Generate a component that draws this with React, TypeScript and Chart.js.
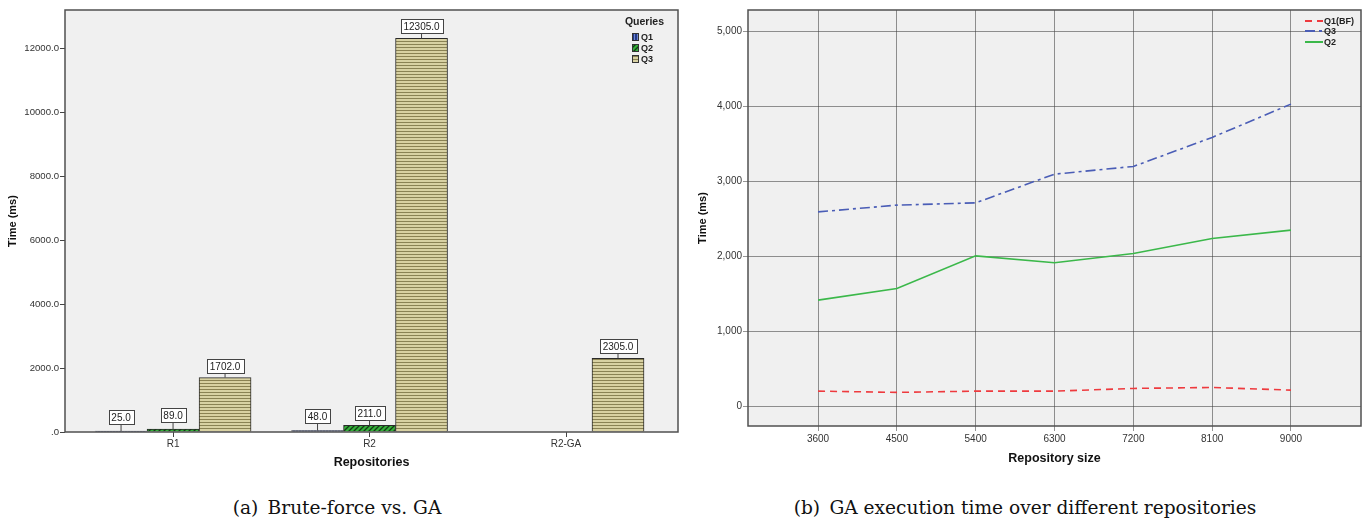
import React, { useEffect, useRef } from 'react';
import { Chart, registerables } from 'chart.js';

Chart.register(...registerables);

// ---- Brute-force vs. GA (bar chart) ----
const repoLabels = ['R1', 'R2', 'R2-GA'];
const q1Times: (number | null)[] = [25.0, 48.0, null];
const q2Times: (number | null)[] = [89.0, 211.0, null];
const q3Times: (number | null)[] = [1702.0, 12305.0, 2305.0];
const barYTicks = [0, 2000, 4000, 6000, 8000, 10000, 12000];

// ---- GA execution time over repository size (line chart) ----
const repoSizes = [3600, 4500, 5400, 6300, 7200, 8100, 9000];
const q1bfTimes = [200, 183, 200, 200, 236, 249, 213];
const q3GaTimes = [2590, 2680, 2711, 3093, 3196, 3583, 4027];
const q2GaTimes = [1413, 1569, 2004, 1911, 2036, 2236, 2347];
const lineYTicks = [0, 1000, 2000, 3000, 4000, 5000];

const SANS = '"Liberation Sans", Arial, sans-serif';
const TEXT = '#333333';
const PLOT_BG = '#f0f0f0';
const FRAME = '#505050';

function makePattern(kind: 'vertical' | 'diagonal' | 'horizontal'): CanvasPattern | string {
  const c = document.createElement('canvas');
  const g = c.getContext('2d');
  if (!g) return '#888';
  if (kind === 'vertical') {
    c.width = 3; c.height = 3;
    g.fillStyle = '#233a8c';
    g.fillRect(0, 0, 3, 3);
    g.fillStyle = '#6f86cc';
    g.fillRect(1, 0, 1, 3);
  } else if (kind === 'diagonal') {
    c.width = 5; c.height = 5;
    g.fillStyle = '#34b039';
    g.fillRect(0, 0, 5, 5);
    g.strokeStyle = '#123a14';
    g.lineWidth = 1.3;
    g.beginPath();
    g.moveTo(-1, 6); g.lineTo(6, -1);
    g.moveTo(-1, 1); g.lineTo(1, -1);
    g.moveTo(4, 6); g.lineTo(6, 4);
    g.stroke();
  } else {
    c.width = 3; c.height = 3;
    g.fillStyle = '#d8d1a2';
    g.fillRect(0, 0, 3, 3);
    g.fillStyle = '#8a8253';
    g.fillRect(0, 2, 3, 1);
  }
  const p = g.createPattern(c, 'repeat');
  return p || '#888';
}

// plot background and frame
const plotFrame = {
  id: 'plotFrame',
  beforeDraw(chart: any) {
    const { ctx, chartArea: a } = chart;
    ctx.save();
    ctx.fillStyle = '#ffffff';
    ctx.fillRect(0, 0, chart.width, chart.height);
    ctx.fillStyle = PLOT_BG;
    ctx.fillRect(a.left, a.top, a.right - a.left, a.bottom - a.top);
    ctx.restore();
  },
  afterDraw(chart: any) {
    const { ctx, chartArea: a } = chart;
    ctx.save();
    ctx.strokeStyle = FRAME;
    ctx.lineWidth = 1.5;
    ctx.strokeRect(a.left, a.top, a.right - a.left, a.bottom - a.top);
    ctx.restore();
  },
};

// boxed value labels above each bar
const valueBoxes = {
  id: 'valueBoxes',
  afterDatasetsDraw(chart: any) {
    const ctx = chart.ctx;
    ctx.save();
    ctx.font = `10px ${SANS}`;
    ctx.textAlign = 'center';
    ctx.textBaseline = 'middle';
    chart.data.datasets.forEach((ds: any, di: number) => {
      const meta = chart.getDatasetMeta(di);
      meta.data.forEach((bar: any, i: number) => {
        const v = ds.data[i].y;
        if (v == null) return;
        const text = v.toFixed(1);
        const w = Math.round(ctx.measureText(text).width + 6);
        const h = 14;
        const gap = v < 100 ? 7 : 5;
        const bx = Math.round(bar.x - w / 2) + 0.5;
        const by = Math.round(bar.y - gap - h) + 0.5;
        ctx.strokeStyle = '#444';
        ctx.lineWidth = 1;
        ctx.beginPath();
        ctx.moveTo(bar.x, by + h);
        ctx.lineTo(bar.x, bar.y);
        ctx.stroke();
        ctx.fillStyle = '#ffffff';
        ctx.fillRect(bx, by, w, h);
        ctx.strokeRect(bx, by, w, h);
        ctx.fillStyle = '#222';
        ctx.fillText(text, bar.x, by + h / 2 + 0.5);
      });
    });
    ctx.restore();
  },
};

function barLegend(fills: (CanvasPattern | string)[]) {
  return {
    id: 'barLegend',
    afterDraw(chart: any) {
      const ctx = chart.ctx;
      const a = chart.chartArea;
      ctx.save();
      ctx.fillStyle = '#222';
      ctx.textBaseline = 'middle';
      ctx.textAlign = 'right';
      ctx.font = `bold 10.5px ${SANS}`;
      ctx.fillText('Queries', a.right - 14, a.top + 12);
      ctx.textAlign = 'left';
      ctx.font = `bold 9px ${SANS}`;
      const names = ['Q1', 'Q2', 'Q3'];
      names.forEach((n, i) => {
        const cy = a.top + 27 + i * 11;
        const sx = a.left + 567;
        ctx.fillStyle = fills[i];
        ctx.fillRect(sx, cy - 4, 7, 8);
        ctx.strokeStyle = '#333';
        ctx.lineWidth = 1;
        ctx.strokeRect(sx + 0.5, cy - 4 + 0.5, 6, 7);
        ctx.fillStyle = '#222';
        ctx.fillText(n, sx + 9, cy + 0.5);
      });
      ctx.restore();
    },
  };
}

const lineLegend = {
  id: 'lineLegend',
  afterDraw(chart: any) {
    const ctx = chart.ctx;
    const a = chart.chartArea;
    ctx.save();
    ctx.font = `bold 9px ${SANS}`;
    ctx.textBaseline = 'middle';
    ctx.textAlign = 'left';
    const x0 = a.right - 56;
    const x1 = x0 + 18;
    chart.data.datasets.forEach((ds: any, i: number) => {
      const cy = a.top + [11, 21, 32][i];
      ctx.strokeStyle = ds.borderColor;
      ctx.lineWidth = 2;
      ctx.setLineDash(ds.borderDash || []);
      ctx.beginPath();
      ctx.moveTo(x0, cy);
      ctx.lineTo(x1, cy);
      ctx.stroke();
      ctx.setLineDash([]);
      ctx.fillStyle = '#222';
      ctx.fillText(ds.label, x1 + 1, cy + 0.5);
    });
    ctx.restore();
  },
};

function BarPanel() {
  const ref = useRef<HTMLCanvasElement | null>(null);
  useEffect(() => {
    if (!ref.current) return;
    const fills = [makePattern('vertical'), makePattern('diagonal'), makePattern('horizontal')];
    const series = [q1Times, q2Times, q3Times];
    const chart = new Chart(ref.current, {
      type: 'bar',
      data: {
        datasets: ['Q1', 'Q2', 'Q3'].map((label, k) => ({
          label,
          data: series[k].map((y, i) => ({ x: i, y })),
          backgroundColor: fills[k],
          borderColor: '#2a2a2a',
          borderWidth: 1,
          barThickness: 52,
        })),
      } as any,
      options: {
        animation: false,
        responsive: false,
        maintainAspectRatio: false,
        layout: { padding: { left: 0, right: 12, top: 10, bottom: 0 } },
        plugins: { legend: { display: false }, tooltip: { enabled: false } },
        scales: {
          x: {
            type: 'linear',
            min: -0.55,
            max: 2.57,
            offset: false,
            afterBuildTicks: (s: any) => {
              s.ticks = repoLabels.map((_, i) => ({ value: i }));
            },
            afterFit: (s: any) => {
              s.height = 43;
            },
            ticks: {
              autoSkip: false,
              maxRotation: 0,
              padding: 1,
              color: TEXT,
              font: { family: SANS, size: 10 },
              callback: (v: any) => repoLabels[Math.round(v)] ?? '',
            },
            grid: { offset: false, drawOnChartArea: false, drawTicks: true, tickLength: 5, color: '#444' },
            border: { display: false },
            title: {
              display: true,
              text: 'Repositories',
              color: '#111',
              font: { family: SANS, size: 12.5, weight: 'bold' },
              padding: { top: 0, bottom: 5 },
            },
          },
          y: {
            type: 'linear',
            min: 0,
            max: 13190,
            afterBuildTicks: (s: any) => {
              s.ticks = barYTicks.map((v) => ({ value: v }));
            },
            afterFit: (s: any) => {
              s.width = 65;
            },
            ticks: {
              padding: 1,
              color: TEXT,
              font: { family: SANS, size: 9.6 },
              callback: (v: any) => (v === 0 ? '.0' : Number(v).toFixed(1)),
            },
            grid: { drawOnChartArea: false, drawTicks: true, tickLength: 5, color: '#444' },
            border: { display: false },
            title: {
              display: true,
              text: 'Time (ms)',
              color: '#111',
              font: { family: SANS, size: 11, weight: 'bold' },
              padding: { top: 6, bottom: 0 },
            },
          },
        },
      } as any,
      plugins: [plotFrame, valueBoxes, barLegend(fills)],
    });
    return () => chart.destroy();
  }, []);
  return <canvas ref={ref} width={690} height={475} style={{ position: 'absolute', left: 0, top: 0, width: 690, height: 475 }} />;
}

function LinePanel() {
  const ref = useRef<HTMLCanvasElement | null>(null);
  useEffect(() => {
    if (!ref.current) return;
    const toPoints = (ys: number[]) => ys.map((y, i) => ({ x: repoSizes[i], y }));
    const chart = new Chart(ref.current, {
      type: 'line',
      data: {
        datasets: [
          { label: 'Q1(BF)', data: toPoints(q1bfTimes), borderColor: '#ee3a3e', borderDash: [7, 5], borderWidth: 1.6, pointRadius: 0, tension: 0 },
          { label: 'Q3', data: toPoints(q3GaTimes), borderColor: '#4a5db6', borderDash: [10, 4, 3, 4], borderWidth: 1.6, pointRadius: 0, tension: 0 },
          { label: 'Q2', data: toPoints(q2GaTimes), borderColor: '#3bb84a', borderWidth: 1.6, pointRadius: 0, tension: 0 },
        ],
      } as any,
      options: {
        animation: false,
        responsive: false,
        maintainAspectRatio: false,
        layout: { padding: { left: 0, right: 8, top: 10, bottom: 0 } },
        plugins: { legend: { display: false }, tooltip: { enabled: false } },
        scales: {
          x: {
            type: 'linear',
            min: 2800,
            max: 9800,
            afterBuildTicks: (s: any) => {
              s.ticks = repoSizes.map((v) => ({ value: v }));
            },
            afterFit: (s: any) => {
              s.height = 49;
            },
            ticks: {
              autoSkip: false,
              maxRotation: 0,
              padding: 2,
              color: TEXT,
              font: { family: SANS, size: 10 },
              callback: (v: any) => String(v),
            },
            grid: { drawOnChartArea: true, drawTicks: true, tickLength: 5, color: 'rgba(60,60,60,0.55)', lineWidth: 1 },
            border: { display: false },
            title: {
              display: true,
              text: 'Repository size',
              color: '#111',
              font: { family: SANS, size: 12.5, weight: 'bold' },
              padding: { top: 0, bottom: 9 },
            },
          },
          y: {
            type: 'linear',
            min: -265,
            max: 5282,
            afterBuildTicks: (s: any) => {
              s.ticks = lineYTicks.map((v) => ({ value: v }));
            },
            afterFit: (s: any) => {
              s.width = 58;
            },
            ticks: {
              padding: 1,
              color: TEXT,
              font: { family: SANS, size: 10 },
              callback: (v: any) => Number(v).toLocaleString('en-US'),
            },
            grid: { drawOnChartArea: true, drawTicks: true, tickLength: 5, color: 'rgba(60,60,60,0.55)', lineWidth: 1 },
            border: { display: false },
            title: {
              display: true,
              text: 'Time (ms)',
              color: '#111',
              font: { family: SANS, size: 11, weight: 'bold' },
              padding: { top: 6, bottom: 0 },
            },
          },
        },
      } as any,
      plugins: [plotFrame, lineLegend],
    });
    return () => chart.destroy();
  }, []);
  return <canvas ref={ref} width={679} height={475} style={{ position: 'absolute', left: 690, top: 0, width: 679, height: 475 }} />;
}

const captionStyle: React.CSSProperties = {
  position: 'absolute',
  top: 496,
  fontFamily: '"DejaVu Serif", serif',
  fontSize: 18.6,
  lineHeight: '24px',
  color: '#111',
  whiteSpace: 'nowrap',
  transform: 'translateX(-50%)',
};

export default function App() {
  return (
    <div style={{ position: 'absolute', left: 0, top: 0, width: 1369, height: 525, background: '#ffffff', overflow: 'hidden' }}>
      <BarPanel />
      <LinePanel />
      <div style={{ ...captionStyle, left: 337 }}>(a){'\u2002'}Brute-force vs. GA</div>
      <div style={{ ...captionStyle, left: 1025 }}>(b){'\u2002'}GA execution time over different repositories</div>
    </div>
  );
}
